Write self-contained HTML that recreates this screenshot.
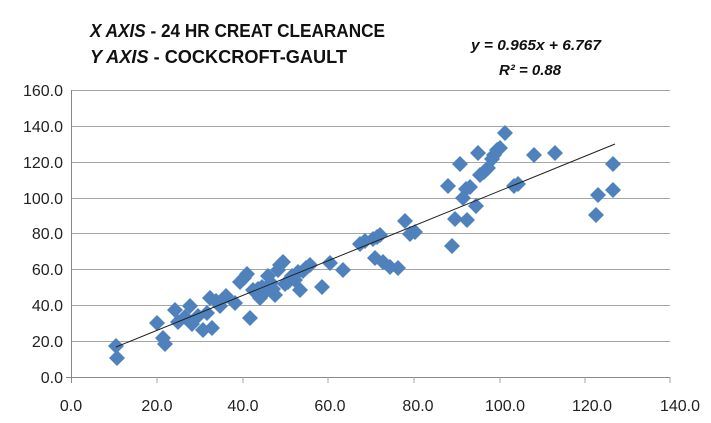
<!DOCTYPE html>
<html><head><meta charset="utf-8"><style>body{margin:0;background:#fff}svg{display:block}</style></head><body>
<svg width="711" height="423" xmlns="http://www.w3.org/2000/svg" font-family="Liberation Sans, sans-serif">
<rect width="711" height="423" fill="#fff"/>
<g stroke="#a6a6a6" stroke-width="1">
<line x1="71" y1="90.5" x2="670" y2="90.5"/><line x1="71" y1="126.5" x2="670" y2="126.5"/><line x1="71" y1="162.5" x2="670" y2="162.5"/><line x1="71" y1="198.5" x2="670" y2="198.5"/><line x1="71" y1="233.5" x2="670" y2="233.5"/><line x1="71" y1="269.5" x2="670" y2="269.5"/><line x1="71" y1="305.5" x2="670" y2="305.5"/><line x1="71" y1="341.5" x2="670" y2="341.5"/>
<line x1="66" y1="377.5" x2="670" y2="377.5" stroke="#888"/>
<line x1="71.5" y1="90" x2="71.5" y2="383" stroke="#888"/>
<line x1="157" y1="377" x2="157" y2="383"/><line x1="243" y1="377" x2="243" y2="383"/><line x1="328" y1="377" x2="328" y2="383"/><line x1="414" y1="377" x2="414" y2="383"/><line x1="500" y1="377" x2="500" y2="383"/><line x1="585" y1="377" x2="585" y2="383"/><line x1="670" y1="377" x2="670" y2="383"/>
</g>
<g font-size="16" fill="#222" text-anchor="end">
<text x="63" y="96">160.0</text><text x="63" y="132">140.0</text><text x="63" y="168">120.0</text><text x="63" y="204">100.0</text><text x="63" y="239">80.0</text><text x="63" y="275">60.0</text><text x="63" y="311">40.0</text><text x="63" y="347">20.0</text><text x="63" y="383">0.0</text>
</g>
<g font-size="16" fill="#222" text-anchor="middle">
<text x="71" y="411">0.0</text><text x="157" y="411">20.0</text><text x="243" y="411">40.0</text><text x="330" y="411">60.0</text><text x="418" y="411">80.0</text><text x="505" y="411">100.0</text><text x="680" y="411">140.0</text><text x="592" y="411">120.0</text>
</g>
<defs><path id="d" d="M0,-8 L8,0 L0,8 L-8,0Z" fill="#4f81bd"/></defs>
<g>
<use href="#d" x="116" y="346"/><use href="#d" x="117" y="358"/><use href="#d" x="157" y="323"/><use href="#d" x="163" y="338"/><use href="#d" x="165" y="344"/><use href="#d" x="175" y="310"/><use href="#d" x="178" y="322"/><use href="#d" x="185" y="317"/><use href="#d" x="190" y="306"/><use href="#d" x="192" y="324"/><use href="#d" x="198" y="316"/><use href="#d" x="203" y="330"/><use href="#d" x="207" y="313"/><use href="#d" x="210" y="298"/><use href="#d" x="212" y="328"/><use href="#d" x="216" y="301"/><use href="#d" x="220" y="306"/><use href="#d" x="226" y="296"/><use href="#d" x="235" y="303"/><use href="#d" x="240" y="282"/><use href="#d" x="244" y="278"/><use href="#d" x="247" y="274"/><use href="#d" x="250" y="318"/><use href="#d" x="253" y="290"/><use href="#d" x="258" y="289"/><use href="#d" x="260" y="298"/><use href="#d" x="262" y="287"/><use href="#d" x="265" y="292"/><use href="#d" x="268" y="276"/><use href="#d" x="271" y="283"/><use href="#d" x="273" y="289"/><use href="#d" x="275" y="295"/><use href="#d" x="278" y="270"/><use href="#d" x="280" y="265"/><use href="#d" x="283" y="262"/><use href="#d" x="285" y="284"/><use href="#d" x="288" y="282"/><use href="#d" x="292" y="276"/><use href="#d" x="295" y="280"/><use href="#d" x="298" y="272"/><use href="#d" x="300" y="290"/><use href="#d" x="303" y="271"/><use href="#d" x="306" y="268"/><use href="#d" x="310" y="265"/><use href="#d" x="322" y="287"/><use href="#d" x="330" y="263"/><use href="#d" x="343" y="270"/><use href="#d" x="360" y="244"/><use href="#d" x="365" y="241"/><use href="#d" x="373" y="239"/><use href="#d" x="377" y="237"/><use href="#d" x="380" y="235"/><use href="#d" x="375" y="258"/><use href="#d" x="383" y="262"/><use href="#d" x="390" y="267"/><use href="#d" x="398" y="268"/><use href="#d" x="405" y="221"/><use href="#d" x="410" y="234"/><use href="#d" x="415" y="232"/><use href="#d" x="448" y="186"/><use href="#d" x="452" y="246"/><use href="#d" x="455" y="219"/><use href="#d" x="460" y="164"/><use href="#d" x="463" y="198"/><use href="#d" x="466" y="189"/><use href="#d" x="467" y="220"/><use href="#d" x="470" y="187"/><use href="#d" x="476" y="206"/><use href="#d" x="478" y="153"/><use href="#d" x="484" y="172"/><use href="#d" x="480" y="175"/><use href="#d" x="488" y="168"/><use href="#d" x="492" y="159"/><use href="#d" x="494" y="155"/><use href="#d" x="497" y="150"/><use href="#d" x="500" y="148"/><use href="#d" x="505" y="133"/><use href="#d" x="514" y="186"/><use href="#d" x="518" y="184"/><use href="#d" x="534" y="155"/><use href="#d" x="555" y="153"/><use href="#d" x="596" y="215"/><use href="#d" x="598" y="195"/><use href="#d" x="613" y="164"/><use href="#d" x="613" y="190"/>
</g>
<line x1="116" y1="347" x2="615" y2="144" stroke="#222" stroke-width="1"/>
<g font-weight="bold" font-size="18" fill="#111">
<text x="90" y="37" textLength="295" lengthAdjust="spacingAndGlyphs"><tspan font-style="italic">X AXIS</tspan> - 24 HR CREAT CLEARANCE</text>
<text x="90" y="63" textLength="257" lengthAdjust="spacingAndGlyphs"><tspan font-style="italic">Y AXIS</tspan> - COCKCROFT-GAULT</text>
</g>
<g font-weight="bold" font-style="italic" font-size="15" fill="#111">
<text x="471" y="50" textLength="130" lengthAdjust="spacingAndGlyphs">y = 0.965x + 6.767</text>
<text x="499" y="75">R² = 0.88</text>
</g>
</svg>
</body></html>
